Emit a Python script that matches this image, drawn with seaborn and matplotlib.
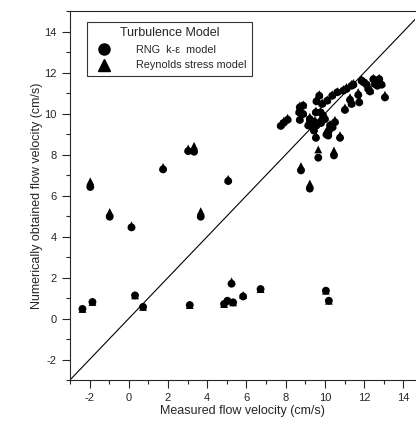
import numpy as np
import pandas as pd
import matplotlib
matplotlib.use("Agg")
import matplotlib.pyplot as plt
from matplotlib.lines import Line2D
from matplotlib.ticker import MultipleLocator
import seaborn as sns

# measured velocity and the two simulated values (cm/s)
measured = [
    -1.96, -0.97, 0.14, 1.75, 3.03, 3.33, 3.67, 5.07,
    -2.36, -1.85, 0.32, 0.73, 3.11, 4.86, 5.03, 5.24, 5.32, 5.83, 6.72,
    10.05, 10.2,
    9.66, 10.46, 8.78, 9.23, 9.54, 10.17, 10.77, 10.15,
    9.71, 9.57, 9.86, 10.12, 10.37, 10.63, 10.94, 11.1, 11.36, 11.45,
    11.87, 11.99, 12.13, 12.21, 12.3, 12.47, 12.55, 12.77, 12.89, 12.67,
    13.06, 11.28, 11.36, 11.7, 11.75, 11.02,
    8.72, 8.89, 8.69, 8.89, 8.72, 9.23, 9.49, 9.54, 9.78, 9.91, 9.83, 10.0,
    9.8, 9.15, 9.37, 9.57, 9.44, 10.26, 10.39, 10.51, 10.2, 10.08, 9.23,
    7.9, 8.1, 7.75,
]
rng_ke = [
    6.42, 4.97, 4.45, 7.28, 8.17, 8.14, 4.97, 6.71,
    0.47, 0.81, 1.13, 0.57, 0.66, 0.71, 0.87, 1.70, 0.79, 1.08, 1.44,
    1.36, 0.87,
    7.85, 7.96, 7.23, 6.34, 8.82, 8.93, 8.82, 9.1,
    10.87, 10.6, 10.47, 10.63, 10.87, 11.04, 11.12, 11.2, 11.36, 11.41,
    11.6, 11.52, 11.41, 11.2, 11.08, 11.68, 11.44, 11.68, 11.41, 11.36,
    10.79, 10.67, 10.47, 10.91, 10.55, 10.18,
    10.31, 10.39, 10.06, 9.98, 9.69, 9.73, 9.58, 10.06, 10.06, 9.9, 9.66, 9.73,
    9.54, 9.42, 9.33, 9.42, 9.17, 9.42, 9.33, 9.58, 9.17, 8.98, 9.58,
    9.55, 9.7, 9.4,
]
reynolds = [
    6.70, 5.20, 4.55, 7.40, 8.30, 8.43, 5.24, 6.82,
    0.47, 0.81, 1.13, 0.57, 0.66, 0.71, 0.87, 1.82, 0.79, 1.15, 1.44,
    1.36, 0.87,
    8.25, 8.20, 7.44, 6.59, 8.95, 9.05, 8.95, 9.2,
    10.95, 10.7, 10.55, 10.7, 10.95, 11.1, 11.2, 11.3, 11.45, 11.5,
    11.7, 11.6, 11.5, 11.3, 11.15, 11.75, 11.5, 11.75, 11.5, 11.45,
    10.92, 10.8, 10.55, 11.05, 10.68, 10.3,
    10.4, 10.45, 10.15, 10.05, 9.8, 9.85, 9.7, 10.15, 10.15, 10.0, 9.75, 9.85,
    9.65, 9.55, 9.45, 9.55, 9.3, 9.5, 9.45, 9.7, 9.3, 9.1, 9.7,
    9.65, 9.8, 9.5,
]

df = pd.DataFrame({
    "measured": measured * 2,
    "simulated": reynolds + rng_ke,
    "model": ["Reynolds stress model"] * len(measured) + ["RNG"] * len(measured),
})

sns.set_style("ticks")
plt.rcParams["font.family"] = ["Liberation Sans", "DejaVu Sans"]
plt.rcParams["axes.unicode_minus"] = False

fig = plt.figure(figsize=(4.16, 4.28), dpi=100)
ax = fig.add_axes([0.168, 0.112, 0.83, 0.862])

sns.scatterplot(data=df, x="measured", y="simulated", style="model",
                markers={"Reynolds stress model": "^", "RNG": "o"},
                color="black", edgecolor="black", linewidth=0, s=32,
                legend=False, ax=ax)

ax.plot([-3, 15], [-3, 15], color="black", lw=0.8)

ax.set_xlim(-3, 14.6)
ax.set_ylim(-3, 15)
ax.xaxis.set_minor_locator(MultipleLocator(1))
ax.yaxis.set_minor_locator(MultipleLocator(1))
ax.set_xticks([-2, 0, 2, 4, 6, 8, 10, 12, 14])
ax.set_yticks([-2, 0, 2, 4, 6, 8, 10, 12, 14])
ax.tick_params(which="major", length=6, width=0.8, labelsize=8, direction="out")
ax.tick_params(which="minor", length=3, width=0.8, direction="out")
ax.spines["right"].set_visible(False)
for s in ["left", "bottom", "top"]:
    ax.spines[s].set_linewidth(0.8)

ax.set_xlabel("Measured flow velocity (cm/s)", fontsize=9, labelpad=1)
ax.set_ylabel("Numerically obtained flow velocity (cm/s)", fontsize=9, labelpad=1)

handles = [
    Line2D([], [], marker="o", color="black", linestyle="none", markersize=8),
    Line2D([], [], marker="^", color="black", linestyle="none", markersize=9),
]
leg = ax.legend(handles, ["RNG  k-\u03b5  model", "Reynolds stress model"],
                title="Turbulence Model", loc="upper left",
                bbox_to_anchor=(0.035, 0.985), fontsize=7.8, title_fontsize=9,
                frameon=True, fancybox=False, edgecolor="black",
                handletextpad=2.0, borderpad=0.5, labelspacing=0.5)
leg.get_frame().set_linewidth(0.8)

fig.savefig("out.png", dpi=100)
